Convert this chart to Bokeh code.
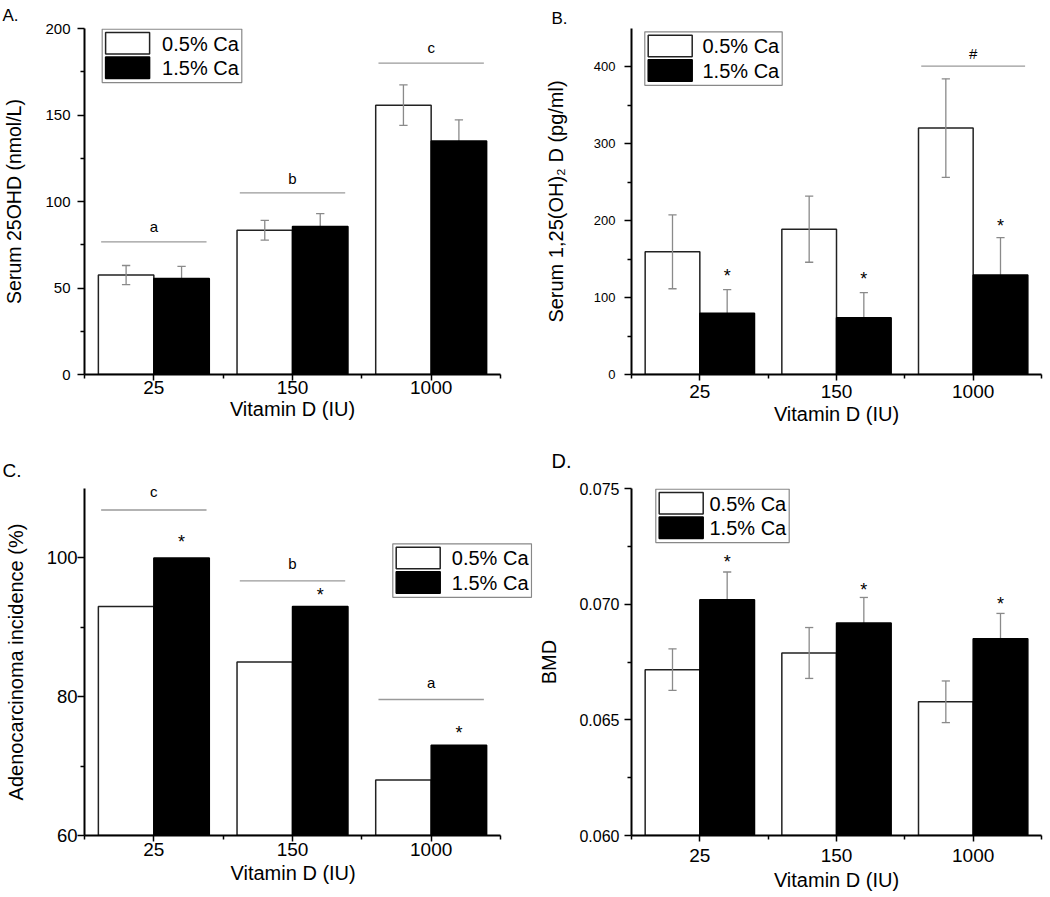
from bokeh.plotting import figure
from bokeh.models import FixedTicker, Range1d, PrintfTickFormatter, Title
from bokeh.core.properties import value
from bokeh.layouts import column, row
from bokeh.embed import file_html
from bokeh.resources import INLINE

FONT = "Liberation Sans"

# ---------------- data ----------------
doses = ["25", "150", "1000"]
series = ["0.5% Ca", "1.5% Ca"]
xtitle = "Vitamin D (IU)"

# Panel A: Serum 25OHD (nmol/L)
a_low = [57.5, 83.4, 155.7]
a_low_err = [5.5, 5.7, 11.7]
a_high = [55.5, 85.5, 134.9]
a_high_err = [7.0, 7.5, 12.3]
a_groups = ["a", "b", "c"]
a_group_line = [76.7, 105.0, 180.0]
a_group_text = [85.5, 113.5, 189.0]

# Panel B: Serum 1,25(OH)2 D (pg/ml)
b_low = [159.5, 189.0, 320.5]
b_low_err = [48.0, 43.0, 64.0]
b_high = [79.5, 73.8, 129.4]
b_high_err = [31.0, 32.6, 48.6]
b_stars = [128.0, 124.0, 193.0]
b_groups = ["#"]
b_group_idx = [3]
b_group_line = [401.0]
b_group_text = [418.0]

# Panel C: Adenocarcinoma incidence (%)
c_low = [93, 85, 68]
c_high = [100, 93, 73]
c_stars = [102.3, 94.7, 74.8]
c_groups = ["c", "b", "a"]
c_group_line = [106.9, 96.7, 79.6]
c_group_text = [109.6, 99.2, 82.0]

# Panel D: BMD
d_low = [0.06717, 0.06789, 0.06578]
d_low_err = [0.0009, 0.0011, 0.0009]
d_high = [0.07019, 0.06919, 0.06850]
d_high_err = [0.0012, 0.0011, 0.0011]
d_stars = [0.07181, 0.07060, 0.07000]

cats = [1, 2, 3]
W = 0.4          # bar width
OFF = 0.2        # half offset
CAP = 0.03       # error cap half width (data units)
SIG_HALF = 0.38  # significance line half width
ERR_COLOR = "#8a8a8a"
SIG_COLOR = "#9a9a9a"
XB = (0.5, 3.5)  # extent of the category axis


class Geom:
    """frame geometry in page pixels, used to place the in-plot legend box"""
    def __init__(self, left, top, width, height, yr, xr=XB):
        self.left, self.top, self.width, self.height = left, top, width, height
        self.yr, self.xr = yr, xr

    def x(self, px):
        x0, x1 = self.xr
        return x0 + (px - self.left) / self.width * (x1 - x0)

    def y(self, py):
        y0, y1 = self.yr
        return y0 + (self.top + self.height - py) / self.height * (y1 - y0)


def base_fig(g, width, height, left, right, top, bottom, yticks, yminor, ylabel,
             ytick_size, ylab_size, ytick_standoff, ylab_standoff,
             xtick_size, xlab_size, xtick_standoff, xlab_standoff,
             tag, tag_size, tag_offset, tag_standoff, yfmt=None, xlabel=xtitle):
    p = figure(width=width, height=height, x_range=Range1d(*g.xr), y_range=Range1d(*g.yr),
               output_backend="svg", toolbar_location=None,
               min_border_left=left, min_border_right=right,
               min_border_top=top, min_border_bottom=bottom)
    p.outline_line_color = None
    p.grid.visible = False
    p.background_fill_color = "white"
    p.border_fill_color = "white"
    p.title.text = tag
    p.title.text_font = FONT
    p.title.text_font_size = tag_size
    p.title.text_font_style = "normal"
    p.title.text_color = "black"
    p.title.align = "left"
    p.title.offset = tag_offset
    p.title.standoff = tag_standoff
    p.xaxis.ticker = FixedTicker(ticks=cats, minor_ticks=[0.5, 1.5, 2.5, 3.5])
    p.xaxis.major_label_overrides = {c: d for c, d in zip(cats, doses)}
    p.xaxis.bounds = XB
    p.yaxis.ticker = FixedTicker(ticks=yticks, minor_ticks=yminor)
    if yfmt is not None:
        p.yaxis.formatter = yfmt
    for ax in (p.xaxis[0], p.yaxis[0]):
        ax.axis_line_width = 2
        ax.axis_line_color = "black"
        ax.major_tick_line_width = 1.5
        ax.minor_tick_line_width = 1.5
        ax.major_tick_line_color = "black"
        ax.minor_tick_line_color = "black"
        ax.major_tick_in = 0
        ax.minor_tick_in = 0
        ax.minor_tick_out = 4
        ax.major_label_text_font = FONT
        ax.major_label_text_font_style = "normal"
        ax.major_label_text_color = "black"
        ax.axis_label_text_font = FONT
        ax.axis_label_text_font_style = "normal"
        ax.axis_label_text_color = "black"
    p.yaxis.major_tick_out = 7
    p.xaxis.major_tick_out = 6
    p.yaxis.major_label_text_font_size = f"{ytick_size}px"
    p.xaxis.major_label_text_font_size = f"{xtick_size}px"
    p.yaxis.axis_label = ylabel
    if xlabel is not None:
        p.xaxis.axis_label = xlabel
    p.yaxis.axis_label_text_font_size = f"{ylab_size}px"
    p.xaxis.axis_label_text_font_size = f"{xlab_size}px"
    p.yaxis.major_label_standoff = ytick_standoff
    p.xaxis.major_label_standoff = xtick_standoff
    p.yaxis.axis_label_standoff = ylab_standoff
    p.xaxis.axis_label_standoff = xlab_standoff
    return p


def add_bars(p, low, high, bottom, low_err=None, high_err=None):
    x_low = [c - OFF for c in cats]
    x_high = [c + OFF for c in cats]
    p.vbar(x=x_low, top=low, bottom=bottom, width=W, fill_color="white",
           line_color="#222222", line_width=1.5)
    if low_err is not None:
        p.segment(x0=x_low, x1=x_low, y0=[v - e for v, e in zip(low, low_err)],
                  y1=[v + e for v, e in zip(low, low_err)], line_color=ERR_COLOR, line_width=1.3)
        for sgn in (-1, 1):
            yy = [v + sgn * e for v, e in zip(low, low_err)]
            p.segment(x0=[x - CAP for x in x_low], x1=[x + CAP for x in x_low], y0=yy, y1=yy,
                      line_color=ERR_COLOR, line_width=1.3)
    if high_err is not None:
        p.segment(x0=x_high, x1=x_high, y0=high,
                  y1=[v + e for v, e in zip(high, high_err)], line_color=ERR_COLOR, line_width=1.3)
        yy = [v + e for v, e in zip(high, high_err)]
        p.segment(x0=[x - CAP for x in x_high], x1=[x + CAP for x in x_high], y0=yy, y1=yy,
                  line_color=ERR_COLOR, line_width=1.3)
    p.vbar(x=x_high, top=high, bottom=bottom, width=W, fill_color="black",
           line_color="black", line_width=1.5)


def add_legend(p, g, bx, by, bw, bh=53.5):
    # box
    p.quad(left=[g.x(bx)], right=[g.x(bx + bw)], top=[g.y(by)], bottom=[g.y(by + bh)],
           fill_color="white", line_color="#888888", line_width=1.2)
    # swatches
    fills = ["white", "black"]
    lines = ["#222222", "black"]
    tops = [by + 3.4, by + 28.0]
    for f, lc, t in zip(fills, lines, tops):
        p.quad(left=[g.x(bx + 3.4)], right=[g.x(bx + 47.4)], top=[g.y(t)], bottom=[g.y(t + 21.5)],
               fill_color=f, line_color=lc, line_width=1.5)
    p.text(x=[g.x(bx + bw - 3)] * 2, y=[g.y(t + 11) for t in tops], text=series,
           text_align="right", text_baseline="middle", text_font=value(FONT),
           text_font_size="20px", text_color="black")


def add_groups(p, idx, groups, line_levels, text_levels, size="15px"):
    xs = list(idx)
    p.segment(x0=[x - SIG_HALF for x in xs], x1=[x + SIG_HALF for x in xs],
              y0=line_levels, y1=line_levels, line_color=SIG_COLOR, line_width=1.3)
    p.text(x=xs, y=text_levels, text=groups, text_align="center", text_baseline="middle",
           text_font=value(FONT), text_font_size=size, text_color="black")


def add_stars(p, levels, size="18px"):
    xs = [c + OFF for c in cats]
    p.text(x=xs, y=levels, text=["*"] * len(xs), text_align="center", text_baseline="middle",
           text_font=value(FONT), text_font_size=size, text_color="black")


# page layout (pixels, page has no margin): top row 0..430, bottom row 430..896
# ---------------- Panel A ----------------
gA = Geom(84, 28, 416, 346, (0, 200))
pA = base_fig(gA, 523, 430, 84, 23, 28, 56, [0, 50, 100, 150, 200], [25, 75, 125, 175],
              "Serum 25OHD (nmol/L)", 15, 19.5, 7, 17, 19, 20, 0, 1,
              "A.", "17px", -82, 7)
add_bars(pA, a_low, a_high, 0, a_low_err, a_high_err)
add_groups(pA, cats, a_groups, a_group_line, a_group_text)
add_legend(pA, gA, 101.7, 28.6, 139.6)

# ---------------- Panel B ----------------
gB = Geom(631, 28, 410, 346, (0, 450))
pB = base_fig(gB, 526, 430, 108, 8, 28, 56, [0, 100, 200, 300, 400], [50, 150, 250, 350],
              "Serum 1,25(OH)\u2082 D (pg/ml)", 13, 20, 9, 24, 19, 20, 4, 2,
              "B.", "17px", -80, 2)
add_bars(pB, b_low, b_high, 0, b_low_err, b_high_err)
add_stars(pB, b_stars)
add_groups(pB, b_group_idx, b_groups, b_group_line, b_group_text)
add_legend(pB, gB, 644.3, 31.3, 137.4)

# ---------------- Panel C ----------------
# the frame runs past the axis end so that the legend box can sit where the reference has it;
# the x title is then placed under the axis itself (not the wider frame)
gC = Geom(84, 488, 448, 347, (60, 110), (0.5, 0.5 + 448 * 3 / 416))
pC = base_fig(gC, 533, 466, 84, 1, 58, 61, [60, 80, 100], [70, 90],
              "Adenocarcinoma incidence (%)", 18.5, 20, 0, 17, 19, 20, 1, 7,
              "C.", "19px", -82, 15, xlabel=None)
pC.add_layout(Title(text=xtitle, align="left", offset=146, vertical_align="top", standoff=6,
                    text_font=FONT, text_font_size="20px", text_font_style="normal",
                    text_color="black"), "below")
add_bars(pC, c_low, c_high, 60)
add_stars(pC, c_stars)
add_groups(pC, cats, c_groups, c_group_line, c_group_text)
add_legend(pC, gC, 392.3, 543.3, 138.7)

# ---------------- Panel D ----------------
gD = Geom(631, 488, 410, 347, (0.060, 0.075))
pD = base_fig(gD, 516, 466, 98, 8, 58, 61, [0.060, 0.065, 0.070, 0.075],
              [0.0625, 0.0675, 0.0725], "BMD", 16, 20, 5, 16, 19, 20, 7, 4,
              "D.", "20px", -80, 33, yfmt=PrintfTickFormatter(format="%.3f"))
add_bars(pD, d_low, d_high, 0.060, d_low_err, d_high_err)
add_stars(pD, d_stars)
add_legend(pD, gD, 655.3, 488.6, 133.4)

layout = column(row(pA, pB), row(pC, pD))
open("out.html", "w").write(file_html(layout, INLINE))
